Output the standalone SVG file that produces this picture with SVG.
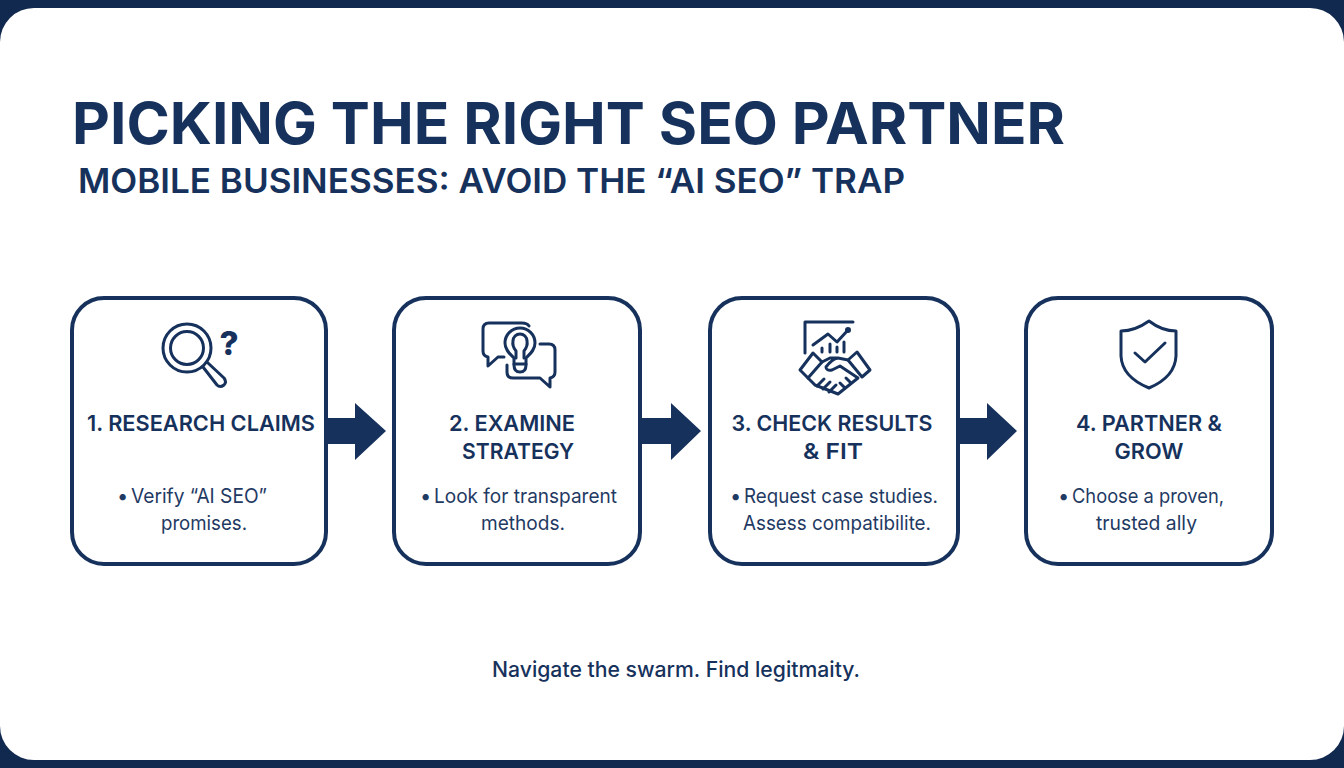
<svg xmlns="http://www.w3.org/2000/svg" width="1344" height="768" viewBox="0 0 1344 768">
<style>
text{font-family:"Inter","Liberation Sans",sans-serif;fill:#16325c}
.title{font-size:58px;font-weight:700}
.sub{font-size:34px;font-weight:600}
.head{font-size:22px;font-weight:600;text-anchor:middle}
.body{font-size:20px;font-weight:400;fill:#1f3a63}
.foot{font-size:21px;font-weight:500}
.card{fill:#fff;stroke:#16325c;stroke-width:4}
.ic{fill:none;stroke:#16325c;stroke-width:3;stroke-linecap:round;stroke-linejoin:round}
.ar{fill:#16325c}
</style>
<rect width="1344" height="768" fill="#11294f"/>
<rect id="panel" x="0" y="8" width="1344" height="752" rx="34" fill="#fff"/>
<g id="heading">
<text class="title" x="72" y="144" textLength="993" lengthAdjust="spacingAndGlyphs">PICKING THE RIGHT SEO PARTNER</text>
<text class="sub" x="78" y="193" textLength="827" lengthAdjust="spacingAndGlyphs">MOBILE BUSINESSES: AVOID THE “AI SEO” TRAP</text>
</g>
<g id="connectors">
<polygon class="ar" points="325,418 355,418 355,403 386,431 355,460 355,444 325,444"/>
<polygon class="ar" points="641,418 671,418 671,403 701,431 671,460 671,444 641,444"/>
<polygon class="ar" points="957,418 987,418 987,403 1017,431 987,460 987,444 957,444"/>
</g>
<g id="node1">
<rect class="card" x="72" y="298" width="254" height="266" rx="32"/>
<circle class="ic" cx="187" cy="348" r="24" stroke-width="3.5"/>
<circle class="ic" cx="187" cy="348" r="16.5" stroke-width="3.5"/>
<path class="ic" d="M203 367L217 385Q220 388 224 385Q227 382 224 378L208 363" stroke-width="3.5"/>
<text x="229" y="355" style="font-size:33px;font-weight:800;text-anchor:middle">?</text>
<text class="head" x="201" y="431" textLength="228" lengthAdjust="spacingAndGlyphs">1. RESEARCH CLAIMS</text>
<text class="body" x="117" y="503">•</text>
<text class="body" x="131" y="503" textLength="136" lengthAdjust="spacingAndGlyphs">Verify “AI SEO”</text>
<text class="body" x="161" y="530" textLength="86" lengthAdjust="spacingAndGlyphs">promises.</text>
</g>
<g id="node2">
<rect class="card" x="394" y="298" width="246" height="266" rx="32"/>
<path class="ic" d="M504 357H498L488 366V357Q483 356 483 351V329Q483 323 489 323H522Q527 323 529 326"/>
<path class="ic" d="M540 344H549Q555 344 555 350V372Q555 377 550 378V387L540 378H513Q507 378 507 372V365"/>
<path class="ic" d="M514 358C510 354 505 350 505 343A15 15 0 1 1 535 343C535 350 530 354 526 358V365Q526 372 520 372Q514 372 514 365Z"/>
<path class="ic" d="M516 358V351Q512 346 513 341A7 7 0 0 1 527 341Q528 346 524 351V358M514 364H526" stroke-width="2.5"/>
<text class="head" x="512" y="431" textLength="126" lengthAdjust="spacingAndGlyphs">2. EXAMINE</text>
<text class="head" x="518" y="459" textLength="112" lengthAdjust="spacingAndGlyphs">STRATEGY</text>
<text class="body" x="420" y="503">•</text>
<text class="body" x="434" y="503" textLength="183" lengthAdjust="spacingAndGlyphs">Look for transparent</text>
<text class="body" x="481" y="530" textLength="84" lengthAdjust="spacingAndGlyphs">methods.</text>
</g>
<g id="node3">
<rect class="card" x="710" y="298" width="248" height="266" rx="32"/>
<path class="ic" d="M853 322H805V353"/>
<path class="ic" d="M813 345L828 334L837 342L848 330"/>
<circle cx="848" cy="330" r="3" fill="#16325c"/>
<path class="ic" d="M822 352V348M830 352V344M837 352V347M844 352V342"/>
<path class="ic" d="M813 353L822 362L808 378L800 370Z"/>
<path class="ic" d="M857 352L870 370L862 377L848 360Z"/>
<path class="ic" d="M848 360L838 358Q832 359 826 367Q826 371 832 370L840 366L858 378L838 394L833 392L815 385L808 378M822 362L830 358H838"/>
<path class="ic" d="M817 386L824 379M823 389L830 382M829 392L836 385M845 388L840 383M851 383L846 378" stroke-width="2.5"/>
<text class="head" x="832" y="431" textLength="201" lengthAdjust="spacingAndGlyphs">3. CHECK RESULTS</text>
<text class="head" x="833" y="459" textLength="60" lengthAdjust="spacingAndGlyphs">&amp; FIT</text>
<text class="body" x="730" y="503">•</text>
<text class="body" x="744" y="503" textLength="194" lengthAdjust="spacingAndGlyphs">Request case studies.</text>
<text class="body" x="743" y="530" textLength="188" lengthAdjust="spacingAndGlyphs">Assess compatibilite.</text>
</g>
<g id="node4">
<rect class="card" x="1026" y="298" width="246" height="266" rx="32"/>
<path class="ic" d="M1149 321Q1135 331 1121 331V356Q1122 377 1149 388Q1175 377 1176 356V331Q1162 331 1149 321Z"/>
<path class="ic" d="M1135 353L1145 362L1165 343"/>
<text class="head" x="1149" y="431" textLength="146" lengthAdjust="spacingAndGlyphs">4. PARTNER &amp;</text>
<text class="head" x="1149" y="459" textLength="69" lengthAdjust="spacingAndGlyphs">GROW</text>
<text class="body" x="1058" y="503">•</text>
<text class="body" x="1072" y="503" textLength="152" lengthAdjust="spacingAndGlyphs">Choose a proven,</text>
<text class="body" x="1096" y="530" textLength="101" lengthAdjust="spacingAndGlyphs">trusted ally</text>
</g>
<g id="footer">
<text class="foot" x="492" y="677" textLength="368" lengthAdjust="spacingAndGlyphs">Navigate the swarm. Find legitmaity.</text>
</g>
</svg>
